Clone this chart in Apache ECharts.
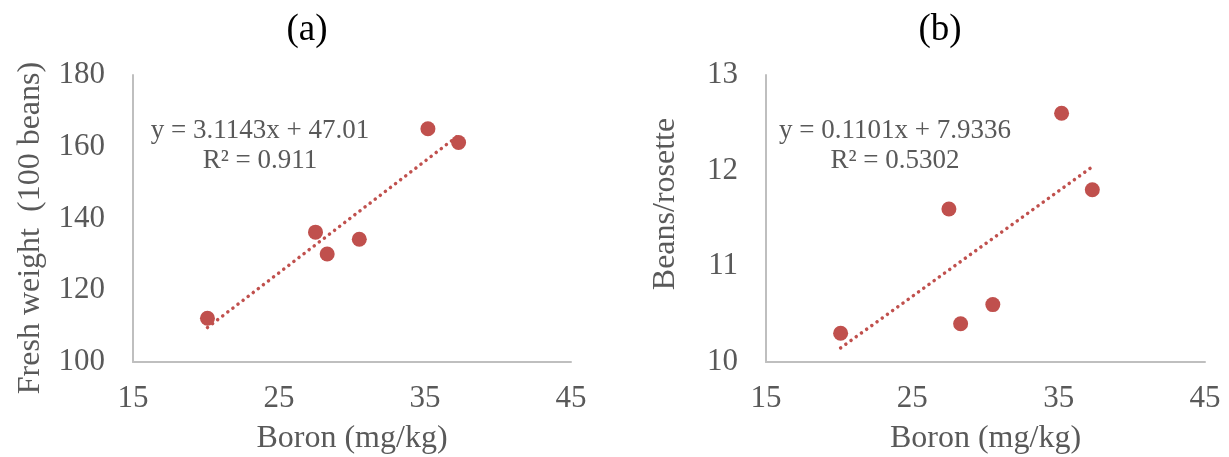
<!DOCTYPE html>
<html>
<head>
<meta charset="utf-8">
<script src="https://cdn.jsdelivr.net/npm/echarts@6/dist/echarts.min.js"></script>
<style>
html,body{margin:0;padding:0;background:#fff;}
#chart{width:1229px;height:457px;}
</style>
</head>
<body>
<div id="chart"></div>
<script>
// ---- data ----
const boron = [20.1, 27.5, 28.3, 30.5, 35.2, 37.3];
const freshWeight = [112.2, 136.2, 130.1, 134.2, 165.0, 161.2];
const beansPerRosette = [10.3, 11.6, 10.4, 10.6, 12.6, 11.8];
const xTicks = [15, 25, 35, 45];
const freshTicks = [100, 120, 140, 160, 180];
const beansTicks = [10, 11, 12, 13];
const fitA = { slope: 3.1143, intercept: 47.01, r2: '0.911' };
const fitB = { slope: 0.1101, intercept: 7.9336, r2: '0.5302' };
const panelTitles = ['(a)', '(b)'];
const yNames = ['Fresh weight  (100 beans)', 'Beans/rosette'];
const xName = 'Boron (mg/kg)';

const FONT = '"Liberation Serif", "Times New Roman", serif';
const RED = '#C0504D';
const GREY_TEXT = '#595959';
const AXIS = '#BFBFBF';

function pairs(xs, ys) { return xs.map((x, i) => [x, ys[i]]); }
function trend(fit) {
  const lo = Math.min(...boron), hi = Math.max(...boron);
  return [[lo, fit.slope * lo + fit.intercept], [hi, fit.slope * hi + fit.intercept]];
}
function xAxisCfg(idx) {
  return {
    type: 'value', gridIndex: idx,
    min: xTicks[0], max: xTicks[xTicks.length - 1], interval: xTicks[1] - xTicks[0],
    name: xName, nameLocation: 'middle', nameGap: 61,
    nameTextStyle: { fontFamily: FONT, fontSize: 32, color: GREY_TEXT },
    axisLine: { show: true, lineStyle: { color: AXIS, width: 2 } },
    axisTick: { show: false },
    splitLine: { show: false },
    axisLabel: { fontFamily: FONT, fontSize: 31, color: GREY_TEXT, margin: 21, showMaxLabel: true, showMinLabel: true }
  };
}
function yAxisCfg(idx, ticks) {
  return {
    type: 'value', gridIndex: idx,
    min: ticks[0], max: ticks[ticks.length - 1], interval: ticks[1] - ticks[0],
    axisLine: { show: true, lineStyle: { color: AXIS, width: 2 } },
    axisTick: { show: false },
    splitLine: { show: false },
    axisLabel: { fontFamily: FONT, fontSize: 31, color: GREY_TEXT, margin: 28 }
  };
}
function scatter(idx, ys) {
  return {
    type: 'scatter', xAxisIndex: idx, yAxisIndex: idx,
    data: pairs(boron, ys), symbolSize: 15,
    itemStyle: { color: RED, opacity: 1 }, z: 3
  };
}
function trendSeries(idx, fit) {
  return {
    type: 'line', xAxisIndex: idx, yAxisIndex: idx,
    data: trend(fit), showSymbol: false, symbol: 'none',
    lineStyle: { color: RED, width: 3.5, type: [0.1, 6.3], cap: 'round', opacity: 1 },
    z: 2, silent: true
  };
}
function eqText(x, fit) {
  const sign = fit.intercept >= 0 ? '+' : '-';
  return {
    type: 'text', x: x, y: 116,
    style: {
      text: 'y = ' + fit.slope + 'x ' + sign + ' ' + Math.abs(fit.intercept) + '\nR² = ' + fit.r2,
      fontFamily: FONT, fontSize: 27, fill: GREY_TEXT, align: 'center', lineHeight: 30
    }
  };
}

const chart = echarts.init(document.getElementById('chart'), null, { renderer: 'canvas' });
chart.setOption({
  animation: false,
  backgroundColor: '#fff',
  title: [
    { text: panelTitles[0], left: 302, top: 7, textAlign: 'center',
      textStyle: { fontFamily: FONT, fontSize: 37, fontWeight: 'normal', color: '#000' } },
    { text: panelTitles[1], left: 935, top: 7, textAlign: 'center',
      textStyle: { fontFamily: FONT, fontSize: 37, fontWeight: 'normal', color: '#000' } }
  ],
  grid: [
    { left: 133, top: 75, width: 438, height: 287, containLabel: false, outerBoundsMode: 'none' },
    { left: 766, top: 75, width: 439, height: 287, containLabel: false, outerBoundsMode: 'none' }
  ],
  xAxis: [xAxisCfg(0), xAxisCfg(1)],
  yAxis: [yAxisCfg(0, freshTicks), yAxisCfg(1, beansTicks)],
  series: [
    trendSeries(0, fitA), scatter(0, freshWeight),
    trendSeries(1, fitB), scatter(1, beansPerRosette)
  ],
  graphic: [
    { type: 'text', x: 31, y: 228, rotation: Math.PI / 2,
      style: { text: yNames[0], fontFamily: FONT, fontSize: 32, fill: GREY_TEXT, align: 'center', verticalAlign: 'middle' } },
    { type: 'text', x: 666, y: 204, rotation: Math.PI / 2,
      style: { text: yNames[1], fontFamily: FONT, fontSize: 32, fill: GREY_TEXT, align: 'center', verticalAlign: 'middle' } },
    eqText(260, fitA),
    eqText(895, fitB)
  ]
});
</script>
</body>
</html>
